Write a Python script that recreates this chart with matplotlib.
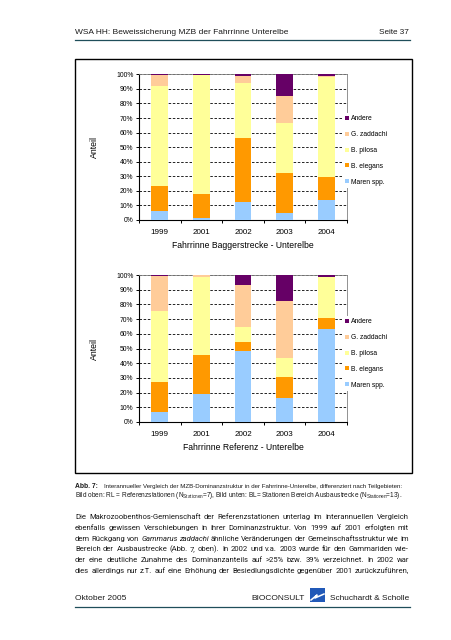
import matplotlib

matplotlib.use("Agg")
import matplotlib.pyplot as plt
import numpy as np
from matplotlib.patches import Rectangle

W, H = 452, 640

years = ["1999", "2001", "2002", "2003", "2004"]
species = ["Maren spp.", "B. elegans", "B. pilosa", "G. zaddachi", "Andere"]
colors = ["#99CCFF", "#FF9900", "#FFFF99", "#FFCC99", "#660066"]

# Anteile in %, obere Grafik (Baggerstrecke)
bagger_maren = [6.2, 1.6, 12.4, 4.8, 13.7]
bagger_elegans = [17.1, 16.2, 43.9, 27.5, 15.8]
bagger_pilosa = [68.9, 81.7, 37.5, 34.3, 68.9]
bagger_zaddachi = [7.3, 0.0, 5.1, 18.8, 0.3]
bagger_andere = [0.5, 0.5, 1.1, 14.6, 1.3]

# Anteile in %, untere Grafik (Referenz)
ref_maren = [7.0, 18.8, 48.0, 16.1, 63.3]
ref_elegans = [20.4, 26.9, 6.1, 14.2, 7.5]
ref_pilosa = [48.2, 52.7, 10.6, 12.9, 27.6]
ref_zaddachi = [23.9, 1.6, 28.5, 39.2, 0.3]
ref_andere = [0.5, 0.0, 6.8, 17.6, 1.3]

header_left = "WSA HH: Beweissicherung MZB der Fahrrinne Unterelbe"
header_right = "Seite 37"
caption_1 = ("Interannueller Vergleich der MZB-Dominanzstruktur in der "
             "Fahrrinne-Unterelbe, differenziert nach Teilgebieten:")
caption_2 = (r"Bild oben: RL = Referenzstationen (N$_{\mathrm{Stationen}}$=7), "
             r"Bild unten: BL= Stationen Bereich Ausbaustrecke (N$_{\mathrm{Stationen}}$=13).")
body = [
    "Die Makrozoobenthos-Gemienschaft der Referenzstationen unterlag im interannuellen Vergleich",
    "ebenfalls gewissen Verschiebungen in ihrer Dominanzstruktur. Von 1999 auf 2001 erfolgten mit",
    "dem Rückgang von _Gammarus _zaddachi ähnliche Veränderungen der Gemeinschaftsstruktur wie im",
    "Bereich der Ausbaustrecke (Abb. 7, oben). In 2002 und v.a. 2003 wurde für den Gammariden wie-",
    "der eine deutliche Zunahme des Dominanzanteils auf >25% bzw. 39% verzeichnet. In 2002 war",
    "dies allerdings nur z.T. auf eine Erhöhung der Besiedlungsdichte gegenüber 2001 zurückzuführen,",
]

plt.rcParams["font.family"] = ["Liberation Sans", "DejaVu Sans"]
plt.rcParams["mathtext.fontset"] = "custom"
plt.rcParams["mathtext.rm"] = "Liberation Sans"

fig = plt.figure(figsize=(W / 100, H / 100), dpi=100)
renderer = fig.canvas.get_renderer()
TEXT = "#1a1a1a"
TEAL = "#1f4e5a"
BODY_FONT = ["Roboto", "Liberation Sans"]


def fy(y):
    return 1 - y / H


def px_axes(left, top, right, bottom):
    return fig.add_axes([left / W, fy(bottom), (right - left) / W, (bottom - top) / H])


def fit_text(s, x0, x1, y, ha="left", **kw):
    t = fig.text(x0 / W, fy(y), s, fontsize=10, va="center", ha="left", color=TEXT, **kw)
    w = t.get_window_extent(renderer).width
    t.set_fontsize(10 * (x1 - x0) / w)
    if ha == "right":
        t.set_ha("right")
        t.set_x(x1 / W)
    return t


def justify_line(line, x0, x1, y, size):
    words = line.split(" ")
    texts = []
    for w in words:
        style = "italic" if w.startswith("_") else "normal"
        texts.append(fig.text(0, fy(y), w.lstrip("_"), fontsize=size, style=style,
                              family=BODY_FONT, va="center", ha="left", color=TEXT))
    widths = [t.get_window_extent(renderer).width for t in texts]
    gap = ((x1 - x0) - sum(widths)) / (len(texts) - 1)
    x = x0
    for t, w in zip(texts, widths):
        t.set_x(x / W)
        x += w + gap


def draw_chart(ax, series, xlabel, legend_y):
    x = np.arange(len(years))
    bottom = np.zeros(len(years))
    for vals, name, c in zip(series, species, colors):
        ax.bar(x, vals, 0.4, bottom=bottom, color=c, label=name, zorder=3)
        bottom += np.array(vals)

    ax.set_xlim(-0.5, len(years) - 0.5)
    ax.set_ylim(0, 100)
    ax.set_yticks(range(0, 101, 10))
    ax.set_yticklabels([f"{v}%" for v in range(0, 101, 10)])
    ax.yaxis.grid(True, linestyle=(0, (3, 2)), color="black", lw=0.6)
    ax.set_axisbelow(True)
    ax.set_xticks(x)
    ax.set_xticklabels(years)
    ax.set_xticks(np.arange(-0.5, len(years), 1), minor=True)
    ax.tick_params(axis="x", which="major", length=0, pad=6.5, labelsize=5.8)
    ax.tick_params(axis="x", which="minor", length=2.5, width=0.7, direction="out")
    ax.tick_params(axis="y", length=2.5, width=0.7, pad=1.5, labelsize=4.9)

    for side in ("left", "bottom"):
        ax.spines[side].set_linewidth(0.8)
        ax.spines[side].set_color("black")
    for side in ("top", "right"):
        ax.spines[side].set_linewidth(0.6)
        ax.spines[side].set_color("#808080")

    ax.set_ylabel("Anteil", fontsize=6.3)
    ax.yaxis.set_label_coords(-0.192, 0.5)
    ax.set_xlabel(xlabel, fontsize=6.2)
    ax.xaxis.label.set_va("center")
    ax.xaxis.set_label_coords(0.5, -0.172)

    h, l = ax.get_legend_handles_labels()
    leg = fig.legend(h[::-1], l[::-1], loc="center left",
                     bbox_to_anchor=(340 / W, fy(legend_y)), fontsize=4.9,
                     frameon=True, facecolor="white", edgecolor="none", framealpha=1,
                     handlelength=0.55, handleheight=0.55, handletextpad=0.3,
                     labelspacing=1.29, borderpad=0.3, fancybox=False)
    leg.set_zorder(5)


# Rahmen um beide Grafiken
fig.patches.append(Rectangle((75 / W, fy(473)), 337 / W, 414 / H, transform=fig.transFigure,
                             fill=False, edgecolor="black", lw=1.0))

ax_top = px_axes(139, 74.3, 347, 220)
draw_chart(ax_top, [bagger_maren, bagger_elegans, bagger_pilosa, bagger_zaddachi, bagger_andere],
           "Fahrrinne Baggerstrecke - Unterelbe", 150.5)

ax_bot = px_axes(139, 275, 347, 422)
draw_chart(ax_bot, [ref_maren, ref_elegans, ref_pilosa, ref_zaddachi, ref_andere],
           "Fahrrinne Referenz - Unterelbe", 353.5)

# Kopfzeile
fit_text(header_left, 75, 287, 32.5)
fit_text(header_right, 379, 409, 32.5)
fig.add_artist(plt.Line2D([75 / W, 410 / W], [fy(40.3), fy(40.3)], color=TEAL, lw=0.9))

# Bildunterschrift
fit_text("Abb. 7:", 75, 98, 486.7, weight="bold")
fit_text(caption_1, 104, 408, 486.7)
fit_text(caption_2, 75, 404, 495.5)

# Fliesstext
probe = fig.text(0, 0, body[5], fontsize=10, family=BODY_FONT)
body_size = 10 * 328 / probe.get_window_extent(renderer).width
probe.remove()
for i, line in enumerate(body):
    justify_line(line, 75, 409, 517 + i * 10.8, body_size)

# Fusszeile
fit_text("Oktober 2005", 75, 126, 599)
fit_text("BIOCONSULT", 251, 305, 599)
fit_text("Schuchardt & Scholle", 330, 409, 599)
fig.patches.append(Rectangle((310 / W, fy(602)), 15 / W, 14 / H, transform=fig.transFigure,
                             facecolor="#2159b8", edgecolor="none"))
fig.add_artist(plt.Line2D([311 / W, 317 / W, 315 / W, 324 / W],
                          [fy(600), fy(595), fy(598), fy(594)], color="white", lw=1.1))
fig.add_artist(plt.Line2D([75 / W, 410 / W], [fy(607), fy(607)], color=TEAL, lw=0.9))

fig.savefig("out.png", dpi=100)
